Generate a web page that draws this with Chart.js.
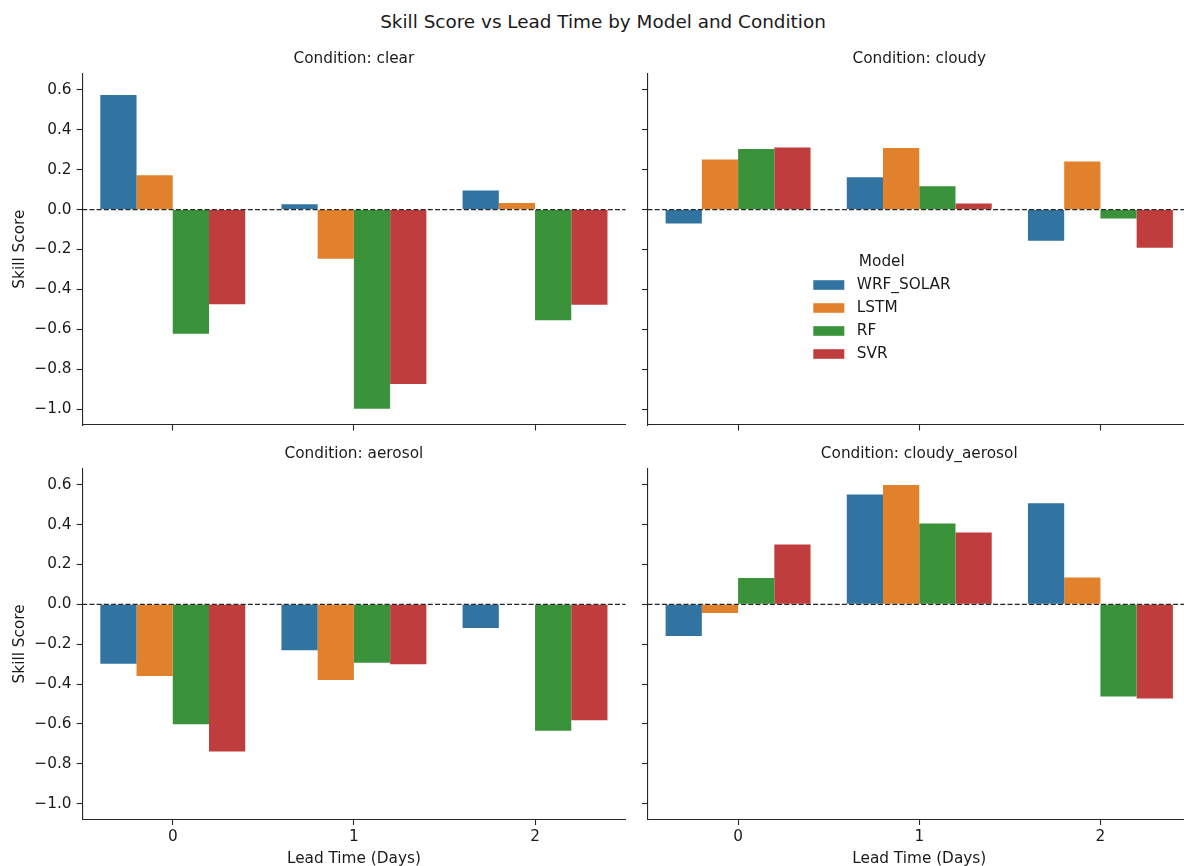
<!DOCTYPE html>
<html>
<head>
<meta charset="utf-8">
<script src="https://cdn.jsdelivr.net/npm/chart.js@4.4.1/dist/chart.umd.min.js"></script>
<style>
  html, body { margin: 0; padding: 0; background: #ffffff; overflow: hidden; }
  body { width: 1184px; height: 866px; position: relative; font-family: "DejaVu Sans", sans-serif; }
  canvas { position: absolute; }
  #suptitle {
    position: absolute; left: 0; width: 1206px; top: 11px; text-align: center;
    font-size: 18.4px; line-height: 22px; color: #1a1a1a; white-space: nowrap;
  }
</style>
</head>
<body>
<div id="suptitle">Skill Score vs Lead Time by Model and Condition</div>
<canvas id="c-clear" width="640" height="400" style="left:0px;top:40px"></canvas>
<canvas id="c-cloudy" width="551" height="400" style="left:640px;top:40px"></canvas>
<canvas id="c-aerosol" width="640" height="440" style="left:0px;top:440px"></canvas>
<canvas id="c-cloudy_aerosol" width="551" height="440" style="left:640px;top:440px"></canvas>
<script>
// Lead times (days) on the x axis and the four forecasting models
const leadTimes = ['0', '1', '2'];
const models = ['WRF_SOLAR', 'LSTM', 'RF', 'SVR'];
const modelColors = ['#3274a1', '#e1812c', '#3a923a', '#c03d3e'];

// Skill scores per condition, one row per model (WRF_SOLAR, LSTM, RF, SVR), one column per lead time
const clearScores = [
  [0.574, 0.027, 0.095],
  [0.172, -0.246, 0.033],
  [-0.622, -0.998, -0.555],
  [-0.475, -0.875, -0.477]
];
const cloudyScores = [
  [-0.070, 0.162, -0.157],
  [0.251, 0.309, 0.241],
  [0.303, 0.117, -0.045],
  [0.311, 0.030, -0.191]
];
const aerosolScores = [
  [-0.298, -0.231, -0.119],
  [-0.360, -0.380, 0.003],
  [-0.602, -0.293, -0.635],
  [-0.739, -0.301, -0.582]
];
const cloudyAerosolScores = [
  [-0.159, 0.552, 0.508],
  [-0.043, 0.599, 0.135],
  [0.132, 0.406, -0.462],
  [0.301, 0.361, -0.473]
];

// Shared y axis
const yTicks = [-1.0, -0.8, -0.6, -0.4, -0.2, 0.0, 0.2, 0.4, 0.6];
const yMin = -1.08;
const yMax = 0.683;

const FONT = 'DejaVu Sans';
const FS = 15.3;
const LH = 1.2;
const INK = '#262626';
const TEXT = '#1a1a1a';

const fmtTick = v => (v < 0 ? '\u2212' + Math.abs(v).toFixed(1) : v.toFixed(1));

// Dashed reference line at zero skill
const zeroLine = {
  id: 'zeroLine',
  afterDatasetsDraw(chart) {
    const { ctx, chartArea, scales } = chart;
    const py = scales.y.getPixelForValue(0);
    ctx.save();
    ctx.setLineDash([5, 2.2]);
    ctx.lineWidth = 1.3;
    ctx.strokeStyle = INK;
    ctx.beginPath();
    ctx.moveTo(chartArea.left, py);
    ctx.lineTo(chartArea.right, py);
    ctx.stroke();
    ctx.restore();
  }
};

// Frameless "Model" legend placed inside the cloudy panel
const modelLegend = {
  id: 'modelLegend',
  afterDraw(chart) {
    const { ctx, chartArea } = chart;
    const x0 = chartArea.left + 165.8;
    const y0 = chartArea.top + 211.7;
    ctx.save();
    ctx.font = FS + 'px "' + FONT + '"';
    ctx.fillStyle = TEXT;
    ctx.textBaseline = 'middle';
    ctx.textAlign = 'center';
    ctx.fillText('Model', x0 + 68.5, y0 - 23.3);
    ctx.textAlign = 'left';
    chart.data.datasets.forEach((ds, i) => {
      const cy = y0 + i * 23;
      ctx.fillStyle = ds.backgroundColor;
      ctx.fillRect(x0, cy - 4.8, 31, 9.6);
      ctx.fillStyle = TEXT;
      ctx.fillText(ds.label, x0 + 43.5, cy);
    });
    ctx.restore();
  }
};

function makePanel(id, condition, scores, opts) {
  const datasets = models.map((m, i) => ({
    label: m,
    data: scores[i],
    backgroundColor: modelColors[i],
    borderWidth: 0,
    categoryPercentage: 0.8,
    barPercentage: 1.0
  }));
  const plugins = [zeroLine];
  if (opts.legend) plugins.push(modelLegend);
  const tickFont = { family: FONT, size: FS, lineHeight: LH };
  return new Chart(document.getElementById(id), {
    type: 'bar',
    data: { labels: leadTimes, datasets },
    plugins,
    options: {
      responsive: false,
      animation: false,
      devicePixelRatio: 1,
      layout: { padding: { left: 0, right: opts.padRight, top: opts.padTop, bottom: 0 } },
      plugins: {
        legend: { display: false },
        tooltip: { enabled: false },
        title: {
          display: true,
          fullSize: false,
          text: 'Condition: ' + condition,
          color: TEXT,
          font: { family: FONT, size: FS, weight: 'normal', lineHeight: LH },
          padding: { top: 0, bottom: 5.12 }
        }
      },
      scales: {
        x: {
          type: 'category',
          offset: true,
          grid: { display: true, offset: false, drawOnChartArea: false, drawTicks: true, tickLength: 5.5, tickWidth: 1.1, tickColor: INK, color: INK },
          border: { display: true, color: INK, width: 1.1 },
          ticks: {
            color: TEXT, padding: 2.8, maxRotation: 0, autoSkip: false,
            font: tickFont,
            callback: function (v) { return opts.xLabels ? this.getLabelForValue(v) : ''; }
          },
          title: {
            display: opts.xLabels, text: 'Lead Time (Days)', color: TEXT,
            font: tickFont,
            padding: { top: 0, bottom: 11.82 }
          },
          afterFit: s => { s.height = opts.xHeight; }
        },
        y: {
          type: 'linear',
          min: yMin,
          max: yMax,
          grid: { display: true, drawOnChartArea: false, drawTicks: true, tickLength: 5.5, tickWidth: 1.1, tickColor: INK, color: INK },
          border: { display: true, color: INK, width: 1.1 },
          afterBuildTicks: s => { s.ticks = yTicks.map(v => ({ value: v })); },
          ticks: {
            color: TEXT, padding: 5.2,
            font: tickFont,
            callback: v => (opts.yLabels ? fmtTick(v) : '')
          },
          title: {
            display: opts.yLabels, text: 'Skill Score', color: TEXT,
            font: tickFont,
            padding: { top: 10.82, bottom: 0 }
          },
          afterFit: s => { s.width = opts.yWidth; }
        }
      }
    }
  });
}

makePanel('c-clear', 'clear', clearScores,
  { padTop: 9.82, padRight: 14.4, xHeight: 15, yWidth: 82.2, xLabels: false, yLabels: true });
makePanel('c-cloudy', 'cloudy', cloudyScores,
  { padTop: 9.82, padRight: 0, xHeight: 15, yWidth: 7.5, xLabels: false, yLabels: false, legend: true });
makePanel('c-aerosol', 'aerosol', aerosolScores,
  { padTop: 4.82, padRight: 14.4, xHeight: 60.5, yWidth: 82.2, xLabels: true, yLabels: true });
makePanel('c-cloudy_aerosol', 'cloudy_aerosol', cloudyAerosolScores,
  { padTop: 4.82, padRight: 0, xHeight: 60.5, yWidth: 7.5, xLabels: true, yLabels: false });
</script>
</body>
</html>
